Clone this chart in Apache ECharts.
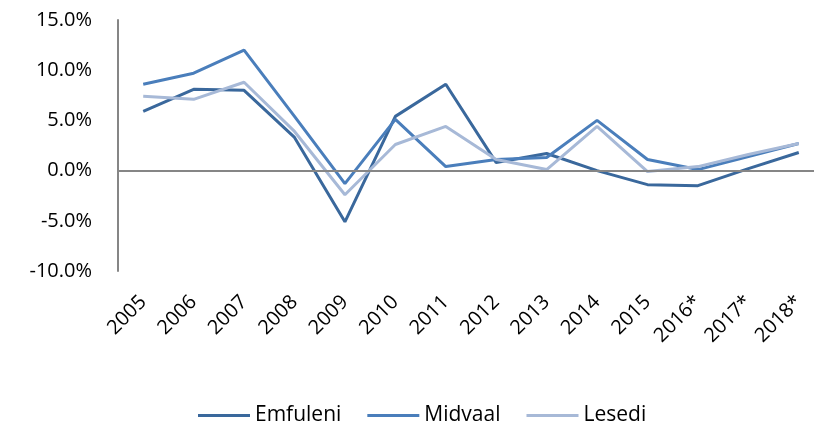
<!DOCTYPE html>
<html>
<head>
<meta charset="utf-8">
<script src="https://cdn.jsdelivr.net/npm/echarts@6/dist/echarts.min.js"></script>
<style>
  html, body { margin: 0; padding: 0; background: #fff; }
  #chart { width: 814px; height: 427px; }
</style>
</head>
<body>
<div id="chart"></div>
<script>
const years = ['2005', '2006', '2007', '2008', '2009', '2010', '2011', '2012', '2013', '2014', '2015', '2016*', '2017*', '2018*']
const emfuleni = [5.9, 8.1, 8.0, 3.3, -5.1, 5.4, 8.6, 0.8, 1.7, 0.0, -1.4, -1.5, 0.2, 1.8]
const midvaal = [8.6, 9.7, 12.0, 5.4, -1.3, 5.1, 0.4, 1.1, 1.3, 5.0, 1.1, 0.1, 1.4, 2.7]
const lesedi = [7.4, 7.1, 8.8, 3.9, -2.4, 2.6, 4.4, 1.1, 0.1, 4.4, -0.1, 0.4, 1.6, 2.7]

const font = 'Open Sans'

let myChart = echarts.init(document.getElementById('chart'))

function line(name, data, color) {
  return {
    name: name,
    type: 'line',
    data: data,
    symbol: 'none',
    lineStyle: { color: color, width: 3 },
    itemStyle: { color: color }
  }
}

let option = {
  animation: false,
  grid: { left: 118, top: 20, width: 706, height: 251, outerBoundsMode: 'none' },
  legend: {
    top: 400,
    left: 193,
    itemWidth: 52,
    itemHeight: 3,
    itemGap: 26,
    icon: 'rect',
    textStyle: { fontFamily: font, fontSize: 21, color: '#000' },
    data: ['Emfuleni', 'Midvaal', 'Lesedi']
  },
  xAxis: {
    type: 'category',
    data: years,
    boundaryGap: true,
    axisLine: { show: false },
    axisTick: { show: false },
    axisLabel: {
      rotate: 45,
      interval: 0,
      margin: 28,
      fontFamily: font,
      fontSize: 20,
      color: '#000'
    }
  },
  yAxis: {
    type: 'value',
    min: -10,
    max: 15,
    interval: 5,
    axisLine: { show: true, lineStyle: { color: '#868686', width: 2 } },
    axisTick: { show: false },
    splitLine: { show: false },
    axisLabel: {
      margin: 26,
      fontFamily: font,
      fontSize: 20,
      color: '#000',
      formatter: v => v.toFixed(1) + '%'
    }
  },
  series: [
    Object.assign(line('Emfuleni', emfuleni, '#3a689c'), {
      markLine: {
        silent: true,
        symbol: 'none',
        label: { show: false },
        lineStyle: { color: '#868686', width: 2, type: 'solid' },
        data: [{ yAxis: 0 }]
      }
    }),
    line('Midvaal', midvaal, '#4a7ebb'),
    line('Lesedi', lesedi, '#a7b9d7')
  ]
}
myChart.setOption(option)
</script>
</body>
</html>
